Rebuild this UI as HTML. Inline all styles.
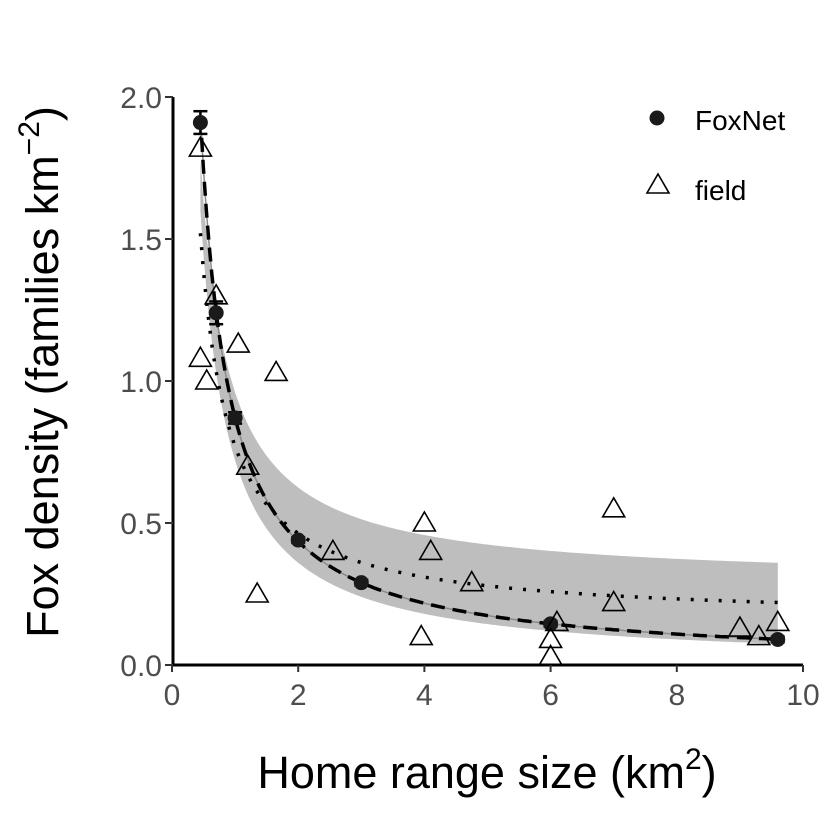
<!DOCTYPE html>
<html><head><meta charset="utf-8"><style>
body{margin:0;background:#fff}
svg{display:block;font-family:"Liberation Sans",Arial,sans-serif}
</style></head><body>
<svg id="chart" width="826" height="826" viewBox="0 0 826 826">
<rect width="826" height="826" fill="#fff"/>
<g id="band"></g>
<g id="lines"></g>
<g id="pts"></g>
<g id="axes"></g>
<text x="487" y="788" font-size="45" text-anchor="middle" fill="#000">Home range size (km<tspan font-size="30" dy="-19">2</tspan><tspan dy="19">)</tspan></text>
<text transform="translate(58,372) rotate(-90)" font-size="45" text-anchor="middle" fill="#000">Fox density (families km<tspan font-size="30" dy="-19">−2</tspan><tspan dy="19">)</tspan></text>
<g>
<circle cx="657" cy="118" r="7.5" fill="#1a1a1a"/>
<text x="695" y="130" font-size="28">FoxNet</text>
<polygon points="658,174 669,193 647,193" fill="none" stroke="#000" stroke-width="1.6"/>
<text x="695" y="200" font-size="28">field</text>
</g>
</svg>
<script>
const foxX=[0.45,0.7,1.0,2.0,3.0,6.0,9.6];
const foxY=[1.91,1.24,0.87,0.44,0.29,0.145,0.09];
const foxErr=[0.04,0.04,0.02,0.01,0.01,0.01,0.01];
const fieldX=[0.45,0.7,0.45,0.55,1.05,1.65,1.2,1.35,2.55,3.95,4.0,4.1,4.75,6.0,6.0,6.1,7.0,7.0,9.0,9.3,9.6];
const fieldY=[1.82,1.30,1.08,1.00,1.13,1.03,0.70,0.25,0.40,0.10,0.50,0.40,0.29,0.09,0.03,0.15,0.55,0.22,0.13,0.10,0.15];
const xTicks=[0,2,4,6,8,10];
const yTicks=[0,0.5,1.0,1.5,2.0];
const dashFit=[0,0.87];   // a + b/x
const dotFit=[0.156,0.614];
const bandUpper=[0.29,0.67];
const bandLower=[0,0.72];
const xRange=[0.45,9.6];
const NS="http://www.w3.org/2000/svg";
const X=v=>172+v*63.1, Y=v=>665-v*284;
function mk(t,a,p){const e=document.createElementNS(NS,t);for(const k in a)e.setAttribute(k,a[k]);p.appendChild(e);return e;}
const f=(c,x)=>c[0]+c[1]/x;
function curve(c){let s=[];for(let i=0;i<=200;i++){const x=xRange[0]+(xRange[1]-xRange[0])*i/200;s.push(X(x).toFixed(1)+","+Y(f(c,x)).toFixed(1));}return s;}
const band=document.getElementById('band');
const up=curve(bandUpper), lo=curve(bandLower).reverse();
const bp=mk('polygon',{points:up.concat(lo).join(' '),fill:'#bebebe'},band);


const lines=document.getElementById('lines');
const gl=mk('polyline',{points:curve(dashFit).join(' '),fill:'none',stroke:'#8a8a8a','stroke-width':1.5},lines);


const dl=mk('polyline',{points:curve(dashFit).join(' '),fill:'none',stroke:'#000','stroke-width':3.5,'stroke-dasharray':'14,8'},lines);


const ol=mk('polyline',{points:curve(dotFit).join(' '),fill:'none',stroke:'#000','stroke-width':3.5,'stroke-dasharray':'3,11'},lines);


const pts=document.getElementById('pts');
foxX.forEach((x,i)=>{
 const g=mk('g',{},pts);
 
 
 const a=Y(foxY[i]+foxErr[i]),b=Y(foxY[i]-foxErr[i]),cx=X(x);
 mk('line',{x1:cx,x2:cx,y1:a,y2:b,stroke:'#000','stroke-width':2.5},g);
 mk('line',{x1:cx-7,x2:cx+7,y1:a,y2:a,stroke:'#000','stroke-width':2.5},g);
 mk('line',{x1:cx-7,x2:cx+7,y1:b,y2:b,stroke:'#000','stroke-width':2.5},g);
 mk('circle',{cx:cx,cy:Y(foxY[i]),r:7.5,fill:'#1a1a1a'},g);
});
fieldX.forEach((x,i)=>{
 const cx=X(x),cy=Y(fieldY[i]);
 const p=mk('polygon',{points:`${cx},${cy-11} ${cx+11},${cy+8} ${cx-11},${cy+8}`,fill:'none',stroke:'#000','stroke-width':1.6},pts);
 
 
});
const ax=document.getElementById('axes');
const xa=mk('line',{x1:172,x2:803,y1:665,y2:665,stroke:'#000','stroke-width':3},ax);


const ya=mk('line',{x1:173,x2:173,y1:97,y2:666,stroke:'#000','stroke-width':3},ax);


xTicks.forEach(v=>{
 mk('line',{x1:X(v),x2:X(v),y1:665,y2:672,stroke:'#333','stroke-width':2},ax);
 const t=mk('text',{x:X(v),y:705,'font-size':30,'text-anchor':'middle',fill:'#4d4d4d'},ax);
 t.textContent=v;
 
 
});
yTicks.forEach(v=>{
 mk('line',{x1:165,x2:173,y1:Y(v),y2:Y(v),stroke:'#333','stroke-width':2},ax);
 const t=mk('text',{x:162,y:Y(v)+11,'font-size':30,'text-anchor':'end',fill:'#4d4d4d'},ax);
 t.textContent=v.toFixed(1);
 
 
});
</script>
</body></html>
